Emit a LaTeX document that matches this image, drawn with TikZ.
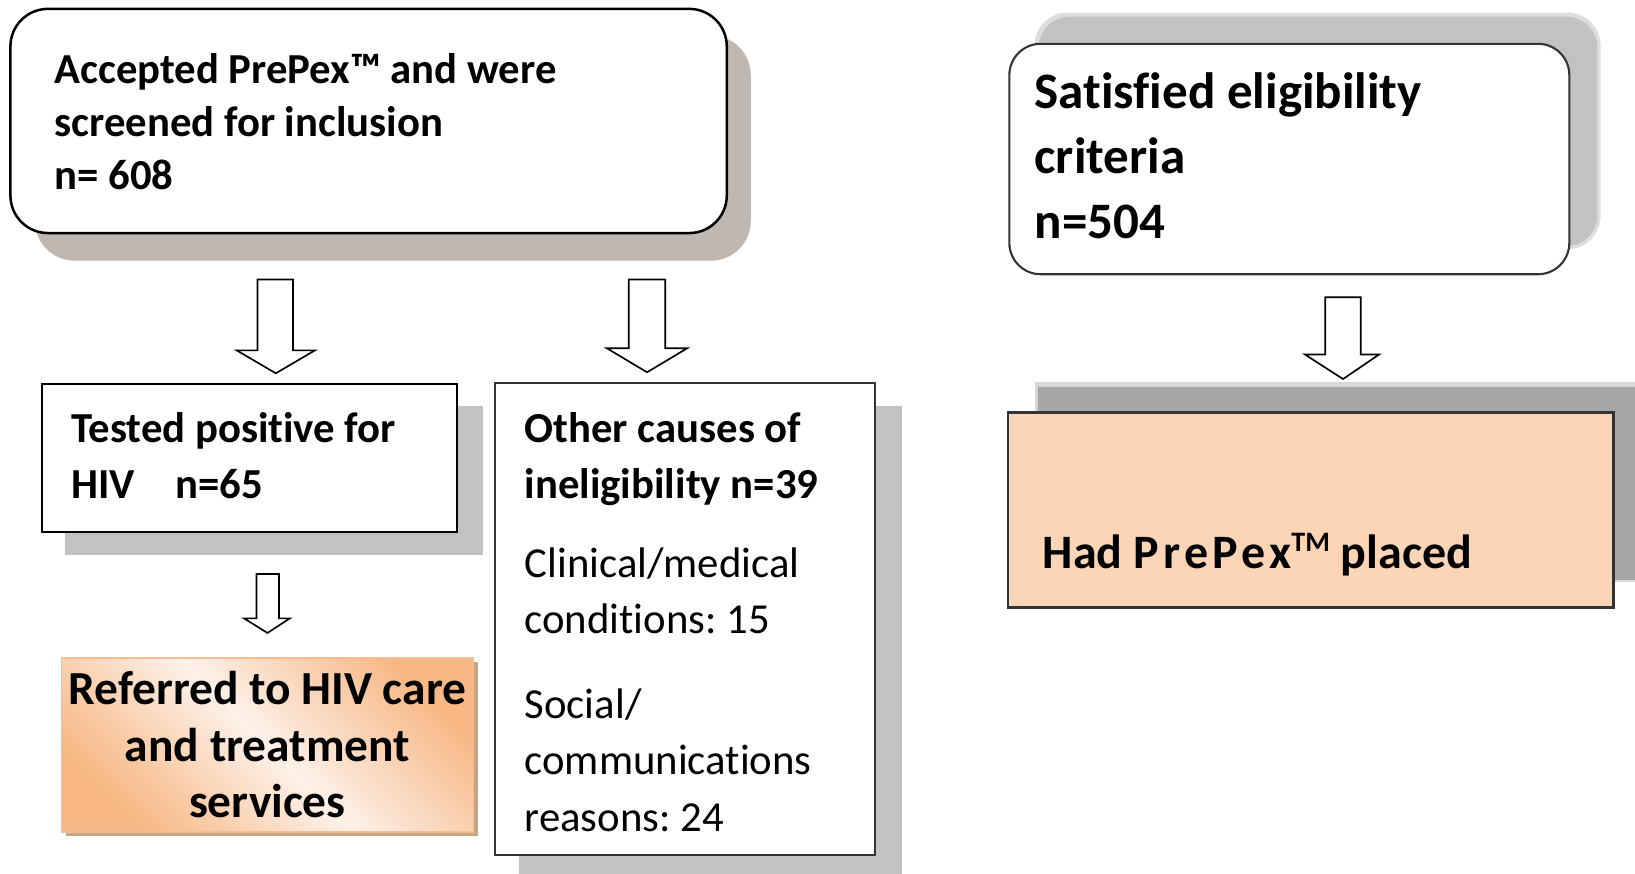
\documentclass[tikz,border=0pt]{standalone}
\usepackage{fontspec}
\setmainfont[Ligatures={NoCommon}]{Carlito}
\definecolor{shbrown}{HTML}{BFB8B2}
\definecolor{shgray}{HTML}{C2C2C2}
\definecolor{shdark}{HTML}{A6A6A6}
\definecolor{peach}{HTML}{FBD5B5}
\definecolor{orangeA}{HTML}{F7B886}
\definecolor{orangeB}{HTML}{FDF1E9}
\definecolor{orbord}{HTML}{F4BE95}
\definecolor{orshadow}{HTML}{C9A482}
\definecolor{edge}{HTML}{333333}
\newcommand\fsz[2]{\fontsize{#1}{#2}\selectfont}
\begin{document}
\frenchspacing
\begin{tikzpicture}[x=1pt,y=-1pt,
  tb/.style={anchor=base west, inner sep=0pt, font=\bfseries\fsz{41}{51}},
  tr/.style={anchor=base west, inner sep=0pt, font=\fsz{41}{51}},
  tbig/.style={anchor=base, inner sep=0pt, font=\bfseries\fsz{45.5}{54}},
  tsat/.style={anchor=base west, inner sep=0pt, font=\bfseries\fsz{49}{62}},
  plainbox/.style={inner sep=0pt, outer sep=0pt},
  blockarrow/.style={draw=black, line width=1.6pt, fill=white, line join=miter}]

\useasboundingbox (0,0) rectangle (1568,838);
\fill[white] (0,0) rectangle (1568,838);

% ---- Box 1 (rounded, top left)
\fill[shbrown, rounded corners=38pt] (33.5,34) rectangle (720,250);
\node[plainbox, draw=black, line width=2.4pt, fill=white, rounded corners=36pt,
      minimum width=687pt, minimum height=215pt] (b1) at (353.5,116) {};
\node[tb] (t1a) at (52,80) {Accepted PrePex™ and were};
\node[tb] (t1b) at (52,131) {screened for inclusion};
\node[tb] (t1c) at (52,182) {n= 608};

% ---- Arrows from box 1
\draw[blockarrow] (247,268) -- (281,268) -- (281,336) -- (302,336) -- (264.5,358)
  -- (227,336) -- (247,336) -- cycle;
\draw[blockarrow] (603,268) -- (638,268) -- (638,334) -- (659,334) -- (620.5,357)
  -- (582,334) -- (603,334) -- cycle;

% ---- Box 2
\fill[shgray] (62,389) rectangle (463,532);
\node[plainbox, draw=black, line width=2pt, fill=white,
      minimum width=398pt, minimum height=142pt] (b2) at (239,439) {};
\node[tb] (t2a) at (68,424) {Tested positive for};
\node[tb] (t2b) at (68,478) {HIV};
\node[tb] (t2c) at (168,478) {n=65};

% ---- Box 3
\fill[shgray] (498,389) rectangle (865,840);
\node[plainbox, draw=edge, line width=2pt, fill=white,
      minimum width=364pt, minimum height=453pt] (b3) at (657,593.5) {};
\node[tb] (t3a) at (503,424) {Other causes of};
\node[tb] (t3b) at (503,478) {ineligibility n=39};
\node[tr] (t3c) at (503,554) {Clinical/medical};
\node[tr] (t3d) at (503,608) {conditions: 15};
\node[tr] (t3e) at (503,689) {Social/};
\node[tr] (t3f) at (503,743) {communications};
\node[tr] (t3g) at (503,797) {reasons: 24};

% ---- small arrow
\draw[blockarrow] (246,550.5) -- (267.5,550.5) -- (267.5,593) -- (278,593) -- (256.5,607)
  -- (234,593) -- (246,593) -- cycle;

% ---- Box 4 (orange gradient)
\fill[orshadow] (63,635) rectangle (458,802);
\node[plainbox, draw=orbord, line width=1.4pt, top color=orangeA, bottom color=orangeA,
      middle color=orangeB, shading angle=-45,
      minimum width=395pt, minimum height=167pt] (b4) at (256.5,714.5) {};
\node[tbig] (t4a) at (256.5,676) {Referred to HIV care};
\node[tbig] (t4b) at (256.5,730) {and treatment};
\node[tbig] (t4c) at (256.5,784) {services};

% ---- Box 5 (rounded, top right)
\fill[shgray!55, rounded corners=32pt] (992,12) rectangle (1535,239);
\fill[shgray, rounded corners=30pt] (996,16) rectangle (1532,236);
\node[plainbox, draw=edge, line width=2pt, fill=white, rounded corners=30pt,
      minimum width=537pt, minimum height=221pt] (b5) at (1236.5,152.5) {};
\node[tsat] (t5a) at (992,104) {Satisfied eligibility};
\node[tsat] (t5b) at (992,166) {criteria};
\node[tsat] (t5c) at (992,229) {n=504};

% ---- arrow right
\draw[blockarrow] (1271,285) -- (1305,285) -- (1305,340) -- (1322.5,340) -- (1288,363.5)
  -- (1251.5,340) -- (1271,340) -- cycle;

% ---- Box 6 (peach)
\fill[shdark!45] (993,366) rectangle (1568,558);
\fill[shdark] (995,371) rectangle (1568,556);
\node[plainbox, draw=edge, line width=2.4pt, fill=peach,
      minimum width=581pt, minimum height=187pt] (b6) at (1257,489) {};
\node[anchor=base west, inner sep=0pt, font=\bfseries\fsz{46}{54}] (t6) at (1000,545)
  {Had {\addfontfeature{LetterSpace=9}PrePex}\raisebox{0.36em}{\fsz{27}{27}TM} placed};
\end{tikzpicture}
\end{document}
